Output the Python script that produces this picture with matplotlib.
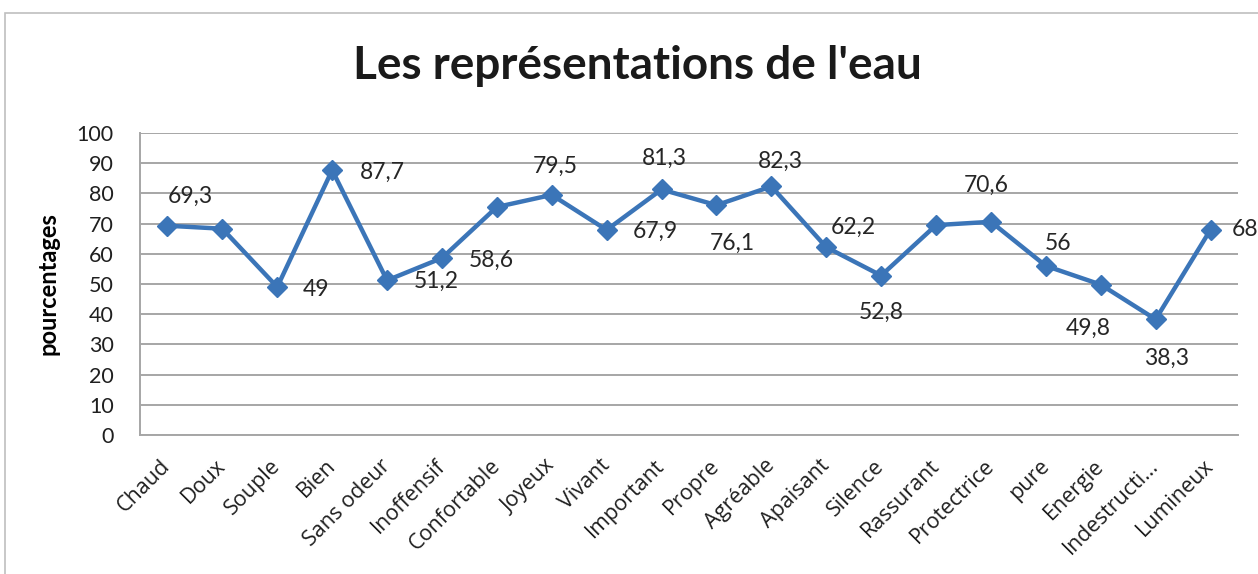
import matplotlib
matplotlib.use("Agg")
import matplotlib.pyplot as plt
from matplotlib.patches import Rectangle

categories = ["Chaud", "Doux", "Souple", "Bien", "Sans odeur", "Inoffensif",
              "Confortable", "Joyeux", "Vivant", "Important", "Propre", "Agréable",
              "Apaisant", "Silence", "Rassurant", "Protectrice", "pure", "Energie",
              "Indestructi…", "Lumineux"]
values = [69.3, 68.3, 49, 87.7, 51.2, 58.6, 75.5, 79.5, 67.9, 81.3, 76.1, 82.3,
          62.2, 52.8, 69.5, 70.6, 56, 49.8, 38.3, 68]
# which points carry a value label in the original
labelled = [True, False, True, True, True, True, False, True, True, True, True, True,
            True, True, False, True, True, True, True, True]

# label offsets in pixels (dx right, dy down), as placed in the source chart
label_offsets = [(23, -29), None, (39, 2), (50, 2), (49, 1), (49, 2), None, (4, -29),
                 (49, 1), (3, -31), (16, 38), (9, -25), (27, -20), (0, 37), None,
                 (-5, -36), (12, -22), (-13, 44), (11, 39), (35, 0)]

blue = "#3b75b8"
grid_col = "#a6a6a6"

fig = plt.figure(figsize=(12.58, 5.74), dpi=100)
fig.patches.append(Rectangle((5 / 1258, -0.1), 1.1, 1 - 13 / 574 + 0.1,
                             transform=fig.transFigure, fill=False,
                             edgecolor="#bfbfbf", linewidth=1.2))

ax = fig.add_axes([140 / 1258, 1 - 435 / 574, 1098 / 1258, 302 / 574])
x = list(range(len(categories)))
ax.plot(x, values, color=blue, linewidth=3.2, marker="D", markersize=10,
        markeredgecolor=blue, markerfacecolor=blue, zorder=3)

for i, v in enumerate(values):
    if not labelled[i]:
        continue
    dx, dy = label_offsets[i]
    txt = f"{v:g}".replace(".", ",")
    ax.annotate(txt, (i, v), xytext=(dx * 0.72, -dy * 0.72), textcoords="offset points",
                ha="center", va="center", fontsize=16.5, family=["Lato", "DejaVu Sans"],
                color="#262626", annotation_clip=False, clip_on=False)

ax.set_xlim(-0.5, len(categories) - 0.5)
ax.set_ylim(0, 100)
ax.set_yticks(range(0, 101, 10))
ax.yaxis.grid(True, color=grid_col, linewidth=1.4)
ax.set_axisbelow(True)
for s in ["top", "right"]:
    ax.spines[s].set_visible(False)
for s in ["left", "bottom"]:
    ax.spines[s].set_color(grid_col)
    ax.spines[s].set_linewidth(1.4)
ax.tick_params(axis="both", length=0, colors="#1f1f1f")
ax.tick_params(axis="y", pad=19, labelsize=15.5)
ax.set_xticks(x)
ax.set_xticklabels(categories, rotation=45, ha="right", va="center",
                   rotation_mode="anchor", family=["Open Sans", "DejaVu Sans"])
ax.tick_params(axis="x", pad=20, labelsize=15.5)
for lab in ax.get_yticklabels():
    lab.set_family(["Lato", "DejaVu Sans"])

ax.set_ylabel("pourcentages", fontsize=17, fontweight="bold",
              family=["Lato", "DejaVu Sans"], labelpad=12)
fig.text(0.5 + 0.007, 1 - 66 / 574, "Les représentations de l'eau", ha="center",
         va="center", fontsize=33, fontweight="bold", family=["Lato", "DejaVu Sans"],
         color="#1a1a1a")

fig.savefig("out.png", dpi=100)
